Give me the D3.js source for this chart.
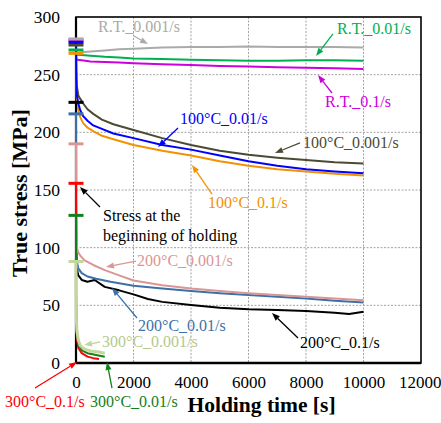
<!DOCTYPE html>
<html><head><meta charset="utf-8">
<script src="https://cdn.jsdelivr.net/npm/d3@7"></script>
<style>body{margin:0;background:#fff}text{font-family:"Liberation Serif","Times New Roman",serif}</style>
</head><body>
<svg id="c" width="441" height="423"></svg>
<script>
// ---- data ----
const xTicks = [0,2000,4000,6000,8000,10000,12000];
const yTicks = [0,50,100,150,200,250,300];
const xGrid = [2000,4000,6000,8000,10000];
const yGrid = [50,100,150,200,250];

const seriesNames = ["200°C_0.1/s","200°C_0.01/s","200°C_0.001/s","300°C_0.1/s","300°C_0.01/s","300°C_0.001/s",
  "R.T._0.1/s","R.T._0.01/s","R.T._0.001/s","100°C_0.001/s","100°C_0.01/s","100°C_0.1/s"];
const seriesColors = ["#000000","#3c71a8","#da9694","#ff0000","#12801c","#c3d69b",
  "#cc00dd","#00b050","#aaaaaa","#4c4a33","#0000ff","#f39200"];
const startStress = [226,216,190,155.8,128,88,280,271.4,281,275.7,278,268.5];

const t200k = [0,3,10,30,80,200,400,650,1000,1500,2000,2500,3000,4000,5000,6000,7000,8000,9000,9500,10000];
const s200_01 = [226,140,100,82,76,72,70.5,72,66,63,59.5,55.5,53,50.3,48,46.5,46,45,43.5,42.5,44.5];
const t200 = [0,3,10,30,80,200,400,700,1200,2000,3000,4000,5000,6000,7000,8000,9000,10000];
const s200_001 = [216,140,100,88,82,78,75,73,70.5,67,64.5,62.5,60.5,59,57.5,56,54,52.5];
const t200p = [0,3,10,30,80,150,300,600,1000,1500,2000,3000,4000,5000,6000,7000,8000,9000,10000];
const s200_0001 = [190,130,110,100,96,93,89,85,80.5,76,71.5,67.5,64.5,62.5,60.5,59,57.5,56,54.5];

const t300r = [0,2,10,30,80,200,400,600,800];
const s300_01 = [155.8,60,35,22,13,8.5,5.5,4.2,3.5];
const t300g = [0,2,10,30,80,200,400,700,1000];
const s300_001 = [128,55,40,26,16,11,8.5,7,5.5];
const t300l = [0,2,10,30,80,150,300,500,800,1000];
const s300_0001 = [88,60,40,28,20,15,12,10.5,9.5,8.5];

const tRT = [0,5,50,200,500,1000,1500,2000,3000,4000,5000,6000,7000,8000,9000,10000];
const sRT_01 = [280,264,263,262.5,261.5,261,260.5,260,259,258.3,257.5,257,256.5,256,255.5,255];
const sRT_001 = [271.4,268,267.2,267,266.5,265.5,264.8,264,263.5,263,262.5,262,262,262.5,262.5,262];
const sRT_0001 = [281,270,268,269.5,270,271,272,272.5,273.5,274,274,274.5,274,274,274,273.5];

const t100 = [0,10,30,80,150,250,400,600,900,1300,2000,3000,4000,5000,6000,7000,8000,9000,10000];
const s100_0001 = [275.7,252,240,232,229,225,220,216,211,207,202,195,189,184,180.5,178,176,174,173];
const s100_001 = [278,245,232,225,219,214,210,206,203,199,195,189,185,180,175,171,168,166,164.5];
const s100_01 = [268.5,240,226,219,213,208,204,201,197,194,189,184,180,175,171,168,166,164,162.5];

const seriesTimes = [t200k,t200,t200p,t300r,t300g,t300l,tRT,tRT,tRT,t100,t100,t100];
const seriesValues = [s200_01,s200_001,s200_0001,s300_01,s300_001,s300_0001,sRT_01,sRT_001,sRT_0001,s100_0001,s100_001,s100_01];

// annotations: label lines, series index for colour, text anchor (t,v), arrow from (t,v) to (t,v)
const annoText = [["R.T._0.001/s"],["R.T._0.01/s"],["R.T._0.1/s"],["100°C_0.01/s"],["100°C_0.001/s"],["100°C_0.1/s"],
  ["Stress at the","beginning of holding"],["200°C_0.001/s"],["200°C_0.01/s"],["200°C_0.1/s"],["300°C_0.001/s"],["300°C_0.1/s"],["300°C_0.01/s"]];
const annoSeries = [8,7,6,10,9,11,0,2,1,0,5,3,4];
const annoPos = [[765,287],[9078,285.3],[8661,222],[3617,207.2],[7896,186.4],[4591,134.4],[939,123.1],[2122,84.1],[2157,27.7],[7791,13],[904,13.9],[-2470,-38.2],[487,-38.2]];
const annoArrow = [[2017,283.5,2504,276.6],[8939,285.3,8348,266.2],[8904,234.1,8417,249.7],[3548,203.8,2852,187.3],[7791,190.8,6922,182.1],
  [4730,146.5,4035,171.7],[835,135.3,139,152.6],[2087,88.4,1043,83.2],[2122,39,1252,65],[7722,21.7,6817,43.4],[835,18.2,278,15.6],[-1426,-21.7,35,0.9],[1252,-21.7,1078,0.9]];

// ---- chart ----
const svg = d3.select("#c");
const L=76,R=421,T=17,B=363;
const x = d3.scaleLinear().domain([0,12000]).range([L,R]);
const y = d3.scaleLinear().domain([0,300]).range([B,T]);

// grid
svg.append("g").selectAll("line").data(xGrid).join("line")
  .attr("x1",d=>x(d)).attr("x2",d=>x(d)).attr("y1",T).attr("y2",B)
  .attr("stroke","#999").attr("stroke-width",0.9).attr("stroke-dasharray","2,1.5");
svg.append("g").selectAll("line").data(yGrid).join("line")
  .attr("y1",d=>y(d)).attr("y2",d=>y(d)).attr("x1",L).attr("x2",R)
  .attr("stroke","#999").attr("stroke-width",0.9).attr("stroke-dasharray","2,1.5");

// frame
svg.append("rect").attr("x",L).attr("y",T).attr("width",R-L).attr("height",B-T)
  .attr("fill","none").attr("stroke","#000").attr("stroke-width",1.6);
svg.append("line").attr("x1",L).attr("x2",L).attr("y1",T).attr("y2",B).attr("stroke","#000").attr("stroke-width",2.2);
svg.append("line").attr("x1",L).attr("x2",R).attr("y1",B).attr("y2",B).attr("stroke","#000").attr("stroke-width",2.6);

// axes labels via d3 axes (no tick marks)
const xa = svg.append("g").attr("transform",`translate(0,${B})`)
  .call(d3.axisBottom(x).tickValues(xTicks).tickSize(0).tickPadding(13).tickFormat(d3.format("d")));
const ya = svg.append("g").attr("transform",`translate(${L},0)`)
  .call(d3.axisLeft(y).tickValues(yTicks).tickSize(0).tickPadding(16));
[xa,ya].forEach(a=>{a.select(".domain").remove();
  a.selectAll("text").attr("font-family","Liberation Serif").attr("font-size",17.5).attr("fill","#000");});
xa.selectAll("text").attr("font-size",17);
xa.selectAll(".tick").filter(d=>d===12000).select("text").attr("text-anchor","end").attr("x",20);

// curves
const line = d3.line().x(d=>x(d[0])).y(d=>y(d[1]));
const drawOrder = [6,7,8,9,11,10,0,1,2,3,4,5];
drawOrder.forEach(i=>{
  const pts = seriesTimes[i].map((t,k)=>[t,seriesValues[i][k]]);
  svg.append("path").datum(pts).attr("d",line).attr("fill","none")
    .attr("stroke",seriesColors[i]).attr("stroke-width", i===5?3:2).attr("stroke-linejoin","round");
});

// start markers
const markerOrder = [6,11,7,9,10,8,0,1,2,3,4,5];
markerOrder.forEach(i=>{
  svg.append("line").attr("x1",x(0)-7.5).attr("x2",x(0)+7.5).attr("y1",y(startStress[i])).attr("y2",y(startStress[i]))
    .attr("stroke",seriesColors[i]).attr("stroke-width",3);
});

// annotations
annoText.forEach((lines,j)=>{
  const c = seriesColors[annoSeries[j]];
  const col = (j===6)?"#000":c;
  const tcol = (j===10)?"#b5c98c":col;
  const [t0,v0,t1,v1] = annoArrow[j];
  const x0=x(t0),y0=y(v0),x1=x(t1),y1=y(v1);
  const ang=Math.atan2(y1-y0,x1-x0), hl=8, hw=3;
  const bx=x1-hl*Math.cos(ang), by=y1-hl*Math.sin(ang);
  svg.append("line").attr("x1",x0).attr("y1",y0).attr("x2",bx).attr("y2",by).attr("stroke",col).attr("stroke-width",1.3);
  svg.append("path").attr("d",`M${x1},${y1}L${bx+hw*Math.sin(ang)},${by-hw*Math.cos(ang)}L${bx-hw*Math.sin(ang)},${by+hw*Math.cos(ang)}Z`).attr("fill",col);
  const tx = svg.append("text").attr("x",x(annoPos[j][0])).attr("y",y(annoPos[j][1]))
    .attr("font-size",16).attr("fill",tcol);
  lines.forEach((s,k)=>tx.append("tspan").attr("x",x(annoPos[j][0])).attr("dy",k?20:0).text(s));
});

// axis titles
svg.append("text").attr("x",(L+R)/2+13).attr("y",411.5).attr("text-anchor","middle")
  .attr("font-size",21.5).attr("font-weight","bold").text("Holding time [s]");
svg.append("text").attr("transform","translate(27,193) rotate(-90)").attr("text-anchor","middle")
  .attr("font-size",22).attr("font-weight","bold").text("True stress [MPa]");
</script>
</body></html>
